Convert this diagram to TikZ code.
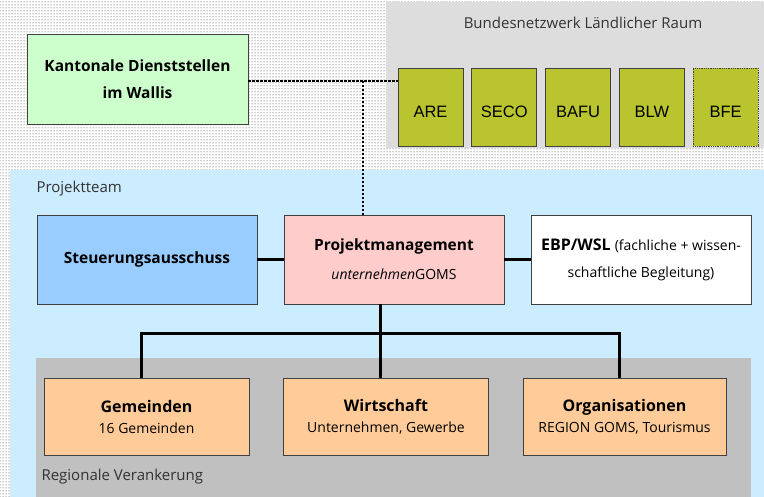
\documentclass[tikz,border=0pt]{standalone}
\usepackage{fontspec}
\setmainfont{Open Sans}
\newfontfamily\arialfont{Liberation Sans}
\usetikzlibrary{patterns,positioning}

\definecolor{kantgreen}{RGB}{204,255,204}
\definecolor{amtgreen}{RGB}{185,196,46}
\definecolor{bundgrey}{RGB}{221,221,221}
\definecolor{teamblue}{RGB}{204,236,255}
\definecolor{steuerblue}{RGB}{153,204,255}
\definecolor{pmrose}{RGB}{255,204,204}
\definecolor{regiongrey}{RGB}{192,192,192}
\definecolor{regorange}{RGB}{255,204,153}

\begin{document}
\begin{tikzpicture}[x=1pt, y=-1pt,
    box/.style={draw=black!75, line width=0.8pt, minimum width=220pt, minimum height=89pt,
      align=center, inner sep=2pt, font=\fontsize{15.5}{27}\selectfont},
    regbox/.style={box, fill=regorange, minimum width=205pt, minimum height=77pt,
      font=\fontsize{14}{21}\selectfont},
    amt/.style={draw=black!75, line width=0.8pt, fill=amtgreen, minimum width=65pt,
      minimum height=78pt, text height=22pt, text depth=0pt,
      font=\arialfont\fontsize{16.5}{18}\selectfont},
    link/.style={line width=3pt},
    dotlink/.style={line width=2.5pt, dash pattern=on 2.5pt off 1.5pt},
    area/.style={font=\fontsize{15}{16}\selectfont, text=black!80}]

      % Background and areas
      \useasboundingbox (0,0) rectangle (764,497);
      \fill[white] (0,0) rectangle (764,497);
      \fill[pattern=dots, pattern color=black!80] (0,0) rectangle (764,497);
      \fill[bundgrey] (386,2) rectangle (764,148);
      \fill[teamblue] (10,170) rectangle (764,497);
      \fill[regiongrey] (36,358) rectangle (751,497);

      \node[area] (bundtitle) at (583,23) {Bundesnetzwerk Ländlicher Raum};
      \node[area, anchor=west] (teamtitle) at (33,189) {Projektteam};
      \node[area, anchor=west] (regiontitle) at (38,477) {Regionale Verankerung};

      % Canton and federal offices
      \node[box, fill=kantgreen, minimum width=221pt, minimum height=90pt,
        font=\bfseries\fontsize{15.5}{27}\selectfont] (kant) at (137.5,79)
        {Kantonale Dienststellen\\im Wallis};
      \foreach \name/\txt/\edge [count=\i from 0] in
          {are/ARE/solid, seco/SECO/solid, bafu/BAFU/solid, blw/BLW/solid, bfe/BFE/densely dotted}
        \node[amt, \edge] (\name) at (430.5+73.8*\i,107) {\txt};

      % Project team
      \node[box, fill=steuerblue] (steuer) at (147,259.5) {\textbf{Steuerungsausschuss}};
      \node[box, fill=pmrose] (pm) at (394,259.5)
        {\textbf{Projektmanagement}\\[2pt]{\fontsize{14}{16}\selectfont\textit{unternehmen}GOMS}};
      \node[box, fill=white] (ebp) at (641,259.5)
        {{\fontsize{16}{16}\selectfont\textbf{EBP/WSL}} {\fontsize{14}{16}\selectfont(fachliche + wissen-}\\
         {\fontsize{14}{16}\selectfont schaftliche Begleitung)}};

      % Regional anchoring
      \node[regbox] (gem) at (146.5,416.5) {{\fontsize{16}{16}\selectfont\textbf{Gemeinden}}\\16 Gemeinden};
      \node[regbox] (wirt) at (386,416.5) {{\fontsize{16}{16}\selectfont\textbf{Wirtschaft}}\\Unternehmen, Gewerbe};
      \node[regbox, minimum width=203pt] (org) at (624.5,416.5)
        {{\fontsize{16}{16}\selectfont\textbf{Organisationen}}\\REGION GOMS, Tourismus};

      % Connections
      \coordinate (dj) at (363,81);
      \coordinate (jn) at (380,334);
      \draw[dotlink] (kant.east |- dj) -- (are.west |- dj);
      \draw[dotlink] (dj) -- (dj |- pm.north);
      \draw[link] (steuer) -- (pm);
      \draw[link] (pm) -- (ebp);
      \draw[link] (jn |- pm.south) -- (jn |- wirt.north);
      \draw[link] ([xshift=-5.5]gem.north) |- (jn) -| ([xshift=-5.5]org.north);
    \end{tikzpicture}
\end{document}
